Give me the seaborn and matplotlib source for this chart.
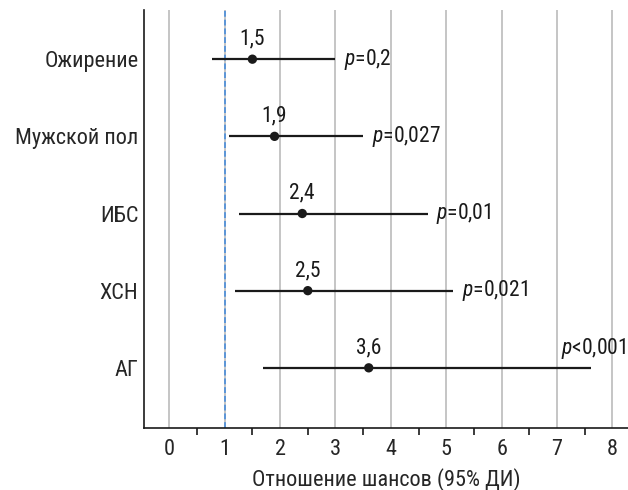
import pandas as pd
import numpy as np
import matplotlib.pyplot as plt
import seaborn as sns
from matplotlib import font_manager

# Данные: отношение шансов и 95% ДИ
factors = ['Ожирение', 'Мужской пол', 'ИБС', 'ХСН', 'АГ']
or_values = [1.5, 1.9, 2.4, 2.5, 3.6]
ci_low = [0.77, 1.07, 1.26, 1.19, 1.69]
ci_high = [3.0, 3.5, 4.67, 5.13, 7.62]
p_labels = ['0,2', '0,027', '0,01', '0,021', '0,001']
p_signs = ['=', '=', '=', '=', '<']

df = pd.DataFrame({'factor': factors, 'OR': or_values, 'lo': ci_low, 'hi': ci_high})
df['pos'] = np.arange(len(df))

# Выбор узкого шрифта, если он установлен
installed = {f.name for f in font_manager.fontManager.ttflist}
candidates = ['Roboto Condensed', 'Liberation Sans Narrow', 'Open Sans Condensed',
              'Roboto', 'Liberation Sans']
fname = next((c for c in candidates if c in installed), 'DejaVu Sans')
condensed = fname in ('Roboto Condensed', 'Liberation Sans Narrow', 'Open Sans Condensed')
fs = 16 if condensed else 13.5

sns.set_style('white')
plt.rcParams['font.family'] = [fname, 'DejaVu Sans']
plt.rcParams['mathtext.fontset'] = 'custom'
plt.rcParams['mathtext.it'] = fname + ':italic'
plt.rcParams['mathtext.rm'] = fname

fig = plt.figure(figsize=(6.28, 4.9), dpi=100)
ax = fig.add_axes([0.229, 0.1265, 0.771, 0.8535])

# Сетка и линия OR = 1
for x in range(0, 9):
    ax.axvline(x, color='#b5b5b5', lw=1.1, zorder=0)
ax.axvline(1, color='#5b95d8', lw=1.4, ls=(0, (3, 1.5)), zorder=1)

# Доверительные интервалы
ax.hlines(df['pos'], df['lo'], df['hi'], color='#1a1a1a', lw=1.6, zorder=2)
sns.scatterplot(data=df, x='OR', y='pos', ax=ax, color='#1a1a1a', s=45,
                edgecolor='none', zorder=3, legend=False)

for i, row in df.iterrows():
    ax.annotate(f"{row['OR']:.1f}".replace('.', ','), (row['OR'], row['pos']),
                xytext=(0, 7), textcoords='offset points', ha='center', va='bottom',
                fontsize=fs - 0.5, color='#1a1a1a')
    label = f"$p${p_signs[i]}{p_labels[i]}"
    if i == len(df) - 1:
        ax.annotate(label, (row['hi'], row['pos']), xytext=(-22, 5),
                    textcoords='offset points', ha='left', va='bottom',
                    fontsize=fs - 0.5, color='#1a1a1a')
    else:
        ax.annotate(label, (row['hi'], row['pos']), xytext=(6, 0),
                    textcoords='offset points', ha='left', va='center',
                    fontsize=fs - 0.5, color='#1a1a1a')

ax.set_xlim(-0.46, 8.28)
ax.set_ylim(4.78, -0.64)
ax.set_yticks(df['pos'])
ax.set_yticklabels(factors, fontsize=fs)
ax.set_xticks(range(0, 9))
ax.set_xticks(np.arange(0.5, 8, 1), minor=True)
ax.tick_params(axis='x', which='major', bottom=False, length=0, labelsize=fs, pad=8)
ax.tick_params(axis='x', which='minor', bottom=True, length=5, width=1.2,
               color='#1a1a1a', direction='out')
ax.tick_params(axis='y', length=0, pad=4)
ax.set_xlabel('Отношение шансов (95% ДИ)', fontsize=fs, labelpad=6)
ax.set_ylabel('')

for s in ['top', 'right']:
    ax.spines[s].set_visible(False)
for s in ['left', 'bottom']:
    ax.spines[s].set_color('#1a1a1a')
    ax.spines[s].set_linewidth(1.2)

plt.savefig('out.png', dpi=100)
